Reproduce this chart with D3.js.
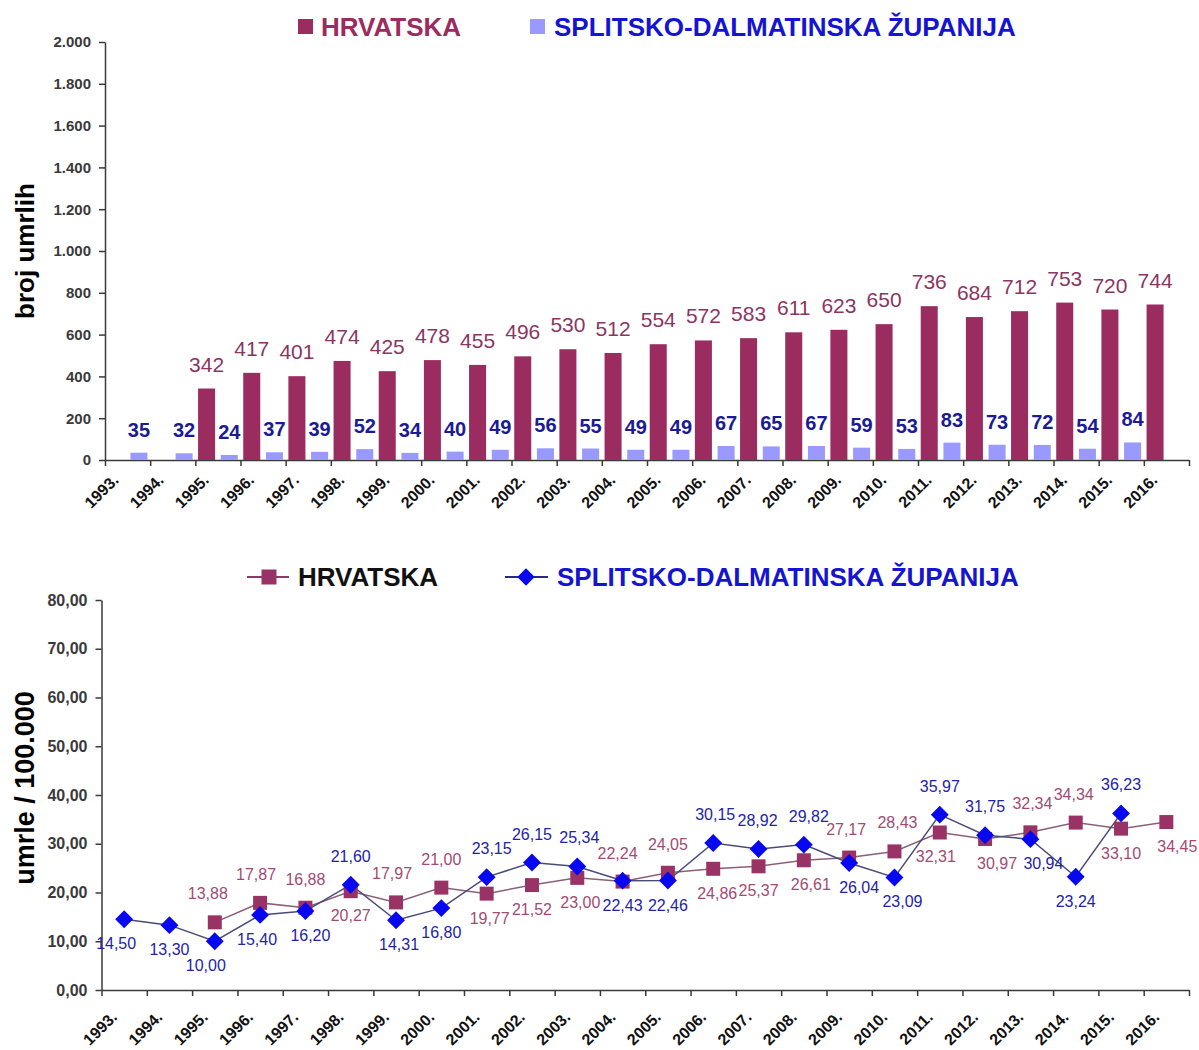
<!DOCTYPE html>
<html>
<head>
<meta charset="utf-8">
<script src="https://cdn.jsdelivr.net/npm/d3@7"></script>
<style>
  body { margin: 0; background: #fff; }
  svg { display: block; font-family: "Liberation Sans", Arial, sans-serif; }
  .axis path, .axis line { stroke: #3a3a3a; stroke-width: 1.5; }
  .axis text { font-weight: bold; fill: #3a3a3a; }
</style>
</head>
<body>
<div id="chart"></div>
<script>
const yearLabels = ["1993.", "1994.", "1995.", "1996.", "1997.", "1998.", "1999.", "2000.",
  "2001.", "2002.", "2003.", "2004.", "2005.", "2006.", "2007.", "2008.", "2009.", "2010.",
  "2011.", "2012.", "2013.", "2014.", "2015.", "2016."];

// broj umrlih
const hrDeaths = [null, null, 342, 417, 401, 474, 425, 478, 455, 496, 530, 512, 554, 572,
  583, 611, 623, 650, 736, 684, 712, 753, 720, 744];
const sdzDeaths = [35, 32, 24, 37, 39, 52, 34, 40, 49, 56, 55, 49, 49, 67, 65, 67, 59, 53,
  83, 73, 72, 54, 84, null];

// umrle / 100.000
const hrRate = [null, null, 13.88, 17.87, 16.88, 20.27, 17.97, 21.00, 19.77, 21.52, 23.00,
  22.24, 24.05, 24.86, 25.37, 26.61, 27.17, 28.43, 32.31, 30.97, 32.34, 34.34, 33.10, 34.45];
const sdzRate = [14.50, 13.30, 10.00, 15.40, 16.20, 21.60, 14.31, 16.80, 23.15, 26.15, 25.34,
  22.43, 22.46, 30.15, 28.92, 29.82, 26.04, 23.09, 35.97, 31.75, 30.94, 23.24, 36.23, null];

const countTicks = [0, 200, 400, 600, 800, 1000, 1200, 1400, 1600, 1800, 2000];
const rateTicks = [0, 10, 20, 30, 40, 50, 60, 70, 80];
const seriesNames = ["HRVATSKA", "SPLITSKO-DALMATINSKA ŽUPANIJA"];

// where each rate label sits: a = above, b = below, plus a small sideways nudge
const hrLabelAt = ["", "", "a", "a", "a", "b", "a", "a", "b", "b", "b", "a", "a", "b", "b", "b",
  "a", "a", "b", "b", "a", "a", "b", "b"];
const hrLabelDx = [0, 0, -7, -4, 0, 0, -4, 0, 3, 0, 3, -5, 0, 4, 0, 7, -3, 3, -4, 12, 2, -2, 0, 11];
const sdzLabelAt = ["b", "b", "b", "b", "b", "a", "b", "b", "a", "a", "a", "b", "b", "a", "a", "a",
  "b", "b", "a", "a", "b", "b", "a", ""];
const sdzLabelDx = [-8, 0, -9, -3, 5, 0, 3, 0, 5, 0, 2, 0, 0, 2, -1, 5, 10, 8, 0, 0, 13, 0, 0, 0];

const maroon = "#9b2c60", lightBlue = "#9999ff", blue = "#0808f0";
const maroonText = "#8c3562", blueText = "#1b1b95";

const loc = d3.formatLocale({decimal: ",", thousands: ".", grouping: [3], currency: ["", ""]});
const fmtCount = loc.format(",d");
const fmtRate = loc.format(",.2f");

const width = 1199, height = 1050;
const svg = d3.select("#chart").append("svg")
  .attr("width", width)
  .attr("height", height);

// ---------- top chart: bars ----------
const xTop = d3.scaleBand().domain(yearLabels).range([105, 1189]);
const xSub = d3.scaleBand().domain(["hr", "sdz"]).range([0, xTop.bandwidth()])
  .paddingInner(0.25).paddingOuter(0.12);
const yTop = d3.scaleLinear().domain([0, 2000]).range([460, 42]);

const topChart = svg.append("g");

topChart.append("g").attr("class", "axis")
  .attr("transform", "translate(105,0)")
  .call(d3.axisLeft(yTop).tickValues(countTicks).tickFormat(fmtCount).tickSize(6).tickPadding(8).tickSizeOuter(0))
  .selectAll("text").style("font-size", "15px");

const tickIdx = d3.scaleLinear().domain([0, yearLabels.length]).range(xTop.range());
topChart.append("g").attr("class", "axis")
  .attr("transform", "translate(0,460)")
  .call(d3.axisBottom(tickIdx).tickValues(d3.range(yearLabels.length + 1)).tickFormat("").tickSize(6).tickSizeOuter(0));

topChart.append("g").selectAll("text")
  .data(yearLabels).enter().append("text")
  .attr("transform", d => `translate(${xTop(d) + xTop.bandwidth() / 2 - 8},481) rotate(-45)`)
  .attr("text-anchor", "end")
  .style("font-size", "16px").style("font-weight", "bold").style("fill", "#111")
  .text(d => d);

const barData = yearLabels.map((y, i) => ({year: y, hr: hrDeaths[i], sdz: sdzDeaths[i]}));

const groups = topChart.append("g").selectAll("g")
  .data(barData).enter().append("g")
  .attr("transform", d => `translate(${xTop(d.year)},0)`);

groups.filter(d => d.hr != null).append("rect")
  .attr("x", xSub("hr")).attr("width", xSub.bandwidth())
  .attr("y", d => yTop(d.hr)).attr("height", d => yTop(0) - yTop(d.hr))
  .attr("fill", maroon);

groups.filter(d => d.sdz != null).append("rect")
  .attr("x", xSub("sdz")).attr("width", xSub.bandwidth())
  .attr("y", d => yTop(d.sdz)).attr("height", d => yTop(0) - yTop(d.sdz))
  .attr("fill", lightBlue);

groups.filter(d => d.hr != null).append("text")
  .attr("x", xSub("hr") + xSub.bandwidth() / 2)
  .attr("y", d => yTop(d.hr) - 17)
  .attr("text-anchor", "middle")
  .style("font-size", "21px").style("fill", maroonText)
  .text(d => fmtCount(d.hr));

groups.filter(d => d.sdz != null).append("text")
  .attr("x", xSub("sdz") + xSub.bandwidth() / 2)
  .attr("y", d => yTop(d.sdz) - 16)
  .attr("text-anchor", "middle")
  .style("font-size", "20px").style("font-weight", "bold").style("fill", blueText)
  .text(d => fmtCount(d.sdz));

svg.append("text")
  .attr("transform", "translate(34,251) rotate(-90)")
  .attr("text-anchor", "middle")
  .style("font-size", "26px").style("font-weight", "bold").style("fill", "#000")
  .text("broj umrlih");

// top legend
const legTop = svg.append("g").attr("transform", "translate(0,27)");
legTop.append("rect").attr("x", 298).attr("y", -8).attr("width", 15).attr("height", 15).attr("fill", maroon);
legTop.append("text").attr("x", 321).attr("y", 9)
  .style("font-size", "26px").style("font-weight", "bold").style("fill", maroon)
  .text(seriesNames[0]);
legTop.append("rect").attr("x", 530).attr("y", -8).attr("width", 15).attr("height", 15).attr("fill", lightBlue);
legTop.append("text").attr("x", 554).attr("y", 9)
  .style("font-size", "26px").style("font-weight", "bold").style("fill", "#1414d2")
  .text(seriesNames[1]);

// ---------- bottom chart: lines ----------
const xBot = d3.scaleBand().domain(yearLabels).range([101.5, 1189]);
const yBot = d3.scaleLinear().domain([0, 80]).range([990, 600]);

const botChart = svg.append("g");

botChart.append("g").attr("class", "axis")
  .attr("transform", "translate(101.5,0)")
  .call(d3.axisLeft(yBot).tickValues(rateTicks).tickFormat(fmtRate).tickSize(6).tickPadding(8).tickSizeOuter(0))
  .selectAll("text").style("font-size", "16px");

const tickIdxBot = d3.scaleLinear().domain([0, yearLabels.length]).range(xBot.range());
botChart.append("g").attr("class", "axis")
  .attr("transform", "translate(0,990)")
  .call(d3.axisBottom(tickIdxBot).tickValues(d3.range(yearLabels.length + 1)).tickFormat("").tickSize(6).tickSizeOuter(0));

botChart.append("g").selectAll("text")
  .data(yearLabels).enter().append("text")
  .attr("transform", d => `translate(${xBot(d) + xBot.bandwidth() / 2 - 6},1018) rotate(-45)`)
  .attr("text-anchor", "end")
  .style("font-size", "16px").style("font-weight", "bold").style("fill", "#111")
  .text(d => d);

const cx = i => xBot(yearLabels[i]) + xBot.bandwidth() / 2;
const line = d3.line()
  .defined(d => d.v != null)
  .x(d => cx(d.i))
  .y(d => yBot(d.v));

const hrPts = hrRate.map((v, i) => ({i, v}));
const sdzPts = sdzRate.map((v, i) => ({i, v}));

botChart.append("path").datum(hrPts)
  .attr("d", line).attr("fill", "none").attr("stroke", "#8a5f78").attr("stroke-width", 1.5);
botChart.append("path").datum(sdzPts)
  .attr("d", line).attr("fill", "none").attr("stroke", "#4a4a78").attr("stroke-width", 1.5);

const sq = d3.symbol().type(d3.symbolSquare).size(196);
const dia = d3.symbol().type(d3.symbolSquare).size(160);

botChart.append("g").selectAll("path")
  .data(hrPts.filter(d => d.v != null)).enter().append("path")
  .attr("d", sq)
  .attr("transform", d => `translate(${cx(d.i)},${yBot(d.v)})`)
  .attr("fill", "#993366");

botChart.append("g").selectAll("path")
  .data(sdzPts.filter(d => d.v != null)).enter().append("path")
  .attr("d", dia)
  .attr("transform", d => `translate(${cx(d.i)},${yBot(d.v)}) rotate(45)`)
  .attr("fill", blue);

function rateLabels(pts, at, dx, color) {
  botChart.append("g").selectAll("text")
    .data(pts.filter(d => d.v != null)).enter().append("text")
    .attr("x", d => cx(d.i) + dx[d.i])
    .attr("y", d => yBot(d.v) + (at[d.i] === "a" ? -23 : 30))
    .attr("text-anchor", "middle")
    .style("font-size", "16px").style("fill", color)
    .text(d => fmtRate(d.v));
}
rateLabels(hrPts, hrLabelAt, hrLabelDx, "#a24b72");
rateLabels(sdzPts, sdzLabelAt, sdzLabelDx, "#2323a8");

svg.append("text")
  .attr("transform", "translate(34,788) rotate(-90)")
  .attr("text-anchor", "middle")
  .style("font-size", "27px").style("font-weight", "bold").style("fill", "#000")
  .text("umrle / 100.000");

// bottom legend
const legBot = svg.append("g").attr("transform", "translate(0,577)");
legBot.append("line").attr("x1", 247).attr("x2", 289).attr("stroke", "#8a3a66").attr("stroke-width", 2);
legBot.append("path").attr("d", d3.symbol().type(d3.symbolSquare).size(225))
  .attr("transform", "translate(269,0)").attr("fill", "#993366");
legBot.append("text").attr("x", 298).attr("y", 9)
  .style("font-size", "26px").style("font-weight", "bold").style("fill", "#111")
  .text(seriesNames[0]);
legBot.append("line").attr("x1", 505).attr("x2", 548).attr("stroke", "#2a2a80").attr("stroke-width", 2);
legBot.append("path").attr("d", d3.symbol().type(d3.symbolSquare).size(150))
  .attr("transform", "translate(526,0) rotate(45)").attr("fill", blue);
legBot.append("text").attr("x", 557).attr("y", 9)
  .style("font-size", "26px").style("font-weight", "bold").style("fill", "#1414d2")
  .text(seriesNames[1]);
</script>
</body>
</html>
